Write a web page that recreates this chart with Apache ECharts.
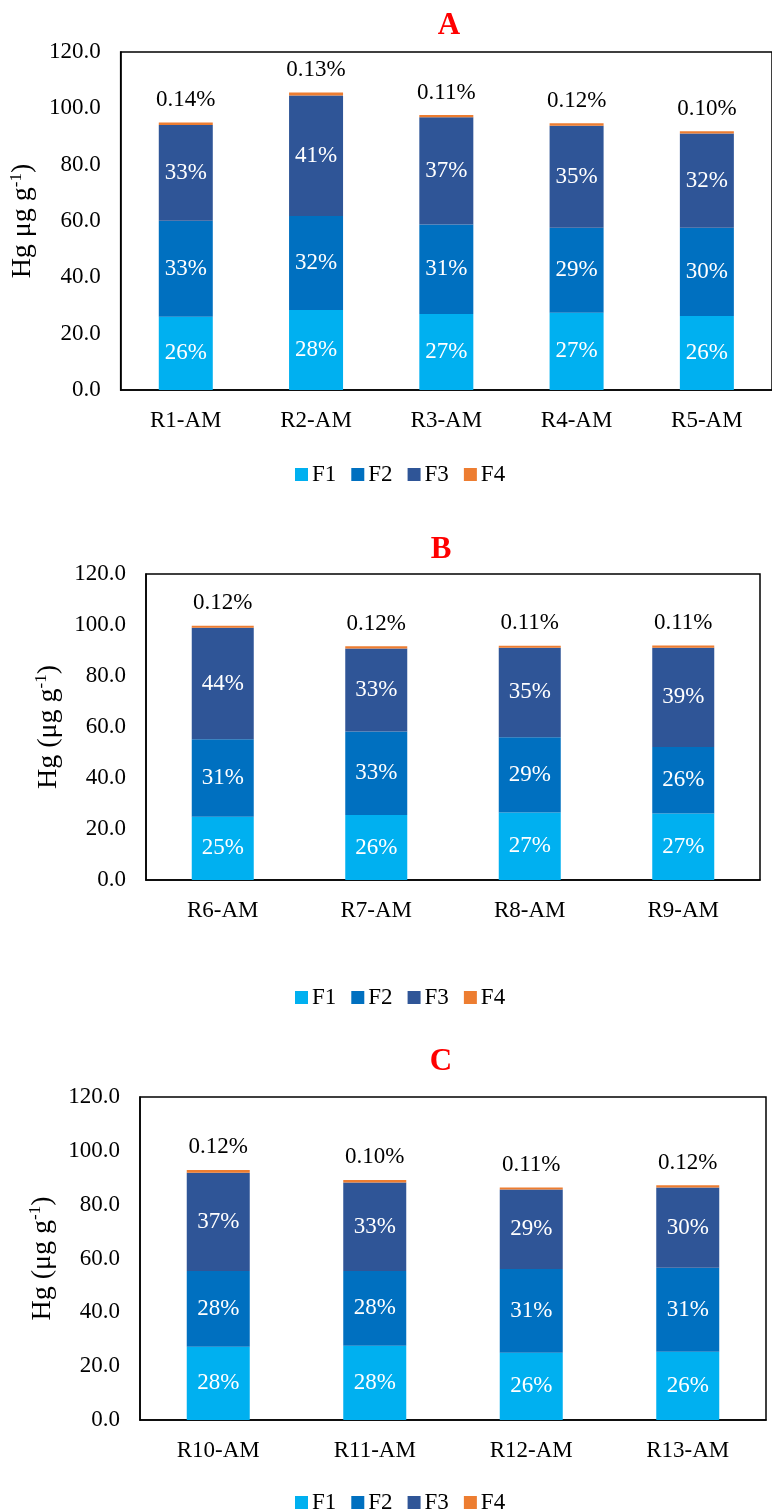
<!DOCTYPE html>
<html>
<head>
<meta charset="utf-8">
<script src="https://cdn.jsdelivr.net/npm/echarts@6/dist/echarts.min.js"></script>
<style>
html,body{margin:0;padding:0;background:#fff;}
#chart{width:772px;height:1510px;}
</style>
</head>
<body>
<div id="chart"></div>
<script>
// ---------- data ----------
const seriesNames = ['F1', 'F2', 'F3', 'F4'];
const yTicks = [0, 20, 40, 60, 80, 100, 120];

// Panel A
const catsA = ['R1-AM', 'R2-AM', 'R3-AM', 'R4-AM', 'R5-AM'];
const f1A = [26.0, 28.4, 27.0, 27.4, 26.3];
const f2A = [34.1, 33.4, 31.8, 30.2, 31.3];
const f3A = [34.0, 42.8, 38.0, 36.2, 33.5];
const f4A = [0.9, 1.0, 0.8, 0.9, 0.8];
const p1A = ['26%', '28%', '27%', '27%', '26%'];
const p2A = ['33%', '32%', '31%', '29%', '30%'];
const p3A = ['33%', '41%', '37%', '35%', '32%'];
const p4A = ['0.14%', '0.13%', '0.11%', '0.12%', '0.10%'];

// Panel B
const catsB = ['R6-AM', 'R7-AM', 'R8-AM', 'R9-AM'];
const f1B = [24.8, 25.5, 26.5, 26.1];
const f2B = [30.4, 32.7, 29.5, 26.1];
const f3B = [43.7, 32.6, 35.1, 38.9];
const f4B = [0.8, 0.9, 0.8, 0.9];
const p1B = ['25%', '26%', '27%', '27%'];
const p2B = ['31%', '33%', '29%', '26%'];
const p3B = ['44%', '33%', '35%', '39%'];
const p4B = ['0.12%', '0.12%', '0.11%', '0.11%'];

// Panel C
const catsC = ['R10-AM', 'R11-AM', 'R12-AM', 'R13-AM'];
const f1C = [27.2, 27.6, 25.0, 25.4];
const f2C = [28.2, 27.8, 31.1, 31.2];
const f3C = [36.5, 32.8, 29.5, 29.8];
const f4C = [1.0, 1.0, 0.8, 0.8];
const p1C = ['28%', '28%', '26%', '26%'];
const p2C = ['28%', '28%', '31%', '31%'];
const p3C = ['37%', '33%', '29%', '30%'];
const p4C = ['0.12%', '0.10%', '0.11%', '0.12%'];

const titles = ['A', 'B', 'C'];
const yNames = ['{n|Hg μg g}{sup|-1}{n|)}', '{n|Hg (μg g}{sup|-1}{n|)}', '{n|Hg (μg g}{sup|-1}{n|)}'];

// ---------- style ----------
const colors = ['#00B0F0', '#0070C0', '#2F5597', '#ED7D31'];
const FONT = '"Liberation Serif", "Times New Roman", serif';
const FS = 23;
const NAME_FS = 28;

const panels = [
  {cats: catsA, vals: [f1A, f2A, f3A, f4A], pcts: [p1A, p2A, p3A, p4A],
   grid: {left: 120, top: 52, width: 664, height: 338}, barWidth: 54, nameGap: 77,
   title: {x: 444, y: 5}, legendTop: 458},
  {cats: catsB, vals: [f1B, f2B, f3B, f4B], pcts: [p1B, p2B, p3B, p4B],
   grid: {left: 146, top: 574, width: 614, height: 306}, barWidth: 62, nameGap: 78,
   title: {x: 436, y: 529}, legendTop: 981},
  {cats: catsC, vals: [f1C, f2C, f3C, f4C], pcts: [p1C, p2C, p3C, p4C],
   grid: {left: 140, top: 1097, width: 626, height: 323}, barWidth: 63, nameGap: 75,
   title: {x: 436, y: 1041}, legendTop: 1486}
];

const option = {
  animation: false,
  backgroundColor: '#fff',
  color: colors,
  title: [], legend: [], grid: [], xAxis: [], yAxis: [], series: []
};

panels.forEach((p, gi) => {
  option.title.push({
    text: titles[gi], left: p.title.x, top: p.title.y, textAlign: 'center',
    textStyle: {color: '#FF0000', fontFamily: FONT, fontSize: 31, fontWeight: 'bold'}
  });
  option.legend.push({
    data: seriesNames, left: 290, top: p.legendTop, icon: 'rect',
    itemWidth: 13, itemHeight: 13, itemGap: 15, selectedMode: false,
    textStyle: {fontFamily: FONT, fontSize: FS, color: '#000', padding: [0, 0, 0, -1]}
  });
  option.grid.push(Object.assign({show: true, borderColor: '#000', borderWidth: 1.5,
    backgroundColor: 'transparent'}, p.grid));
  option.xAxis.push({
    type: 'category', gridIndex: gi, data: p.cats,
    axisLine: {show: true, lineStyle: {color: '#000', width: 1.5}},
    axisTick: {show: false},
    axisLabel: {color: '#000', fontFamily: FONT, fontSize: FS, margin: 19}
  });
  option.yAxis.push({
    type: 'value', gridIndex: gi, min: yTicks[0], max: yTicks[yTicks.length - 1],
    interval: yTicks[1] - yTicks[0],
    axisLine: {show: true, lineStyle: {color: '#000', width: 1.5}},
    axisTick: {show: false},
    splitLine: {show: false},
    axisLabel: {color: '#000', fontFamily: FONT, fontSize: FS, margin: 20,
      formatter: v => v.toFixed(1)},
    name: yNames[gi], nameLocation: 'middle', nameRotate: 90, nameGap: p.nameGap,
    nameTextStyle: {color: '#000', fontFamily: FONT, fontSize: NAME_FS, lineHeight: 30,
      rich: {
        n: {fontFamily: FONT, fontSize: NAME_FS, lineHeight: 30, color: '#000'},
        sup: {fontFamily: FONT, fontSize: 17, lineHeight: 17, verticalAlign: 'top', color: '#000'}
      }}
  });
  seriesNames.forEach((nm, si) => {
    const isTop = si === 3;
    option.series.push({
      name: nm, type: 'bar', stack: 'stack' + gi,
      xAxisIndex: gi, yAxisIndex: gi,
      barWidth: p.barWidth,
      data: p.vals[si],
      itemStyle: {color: colors[si]},
      label: {
        show: true,
        position: isTop ? 'top' : 'inside',
        distance: 11,
        color: isTop ? '#000' : '#fff',
        fontFamily: FONT, fontSize: FS,
        formatter: params => p.pcts[si][params.dataIndex]
      }
    });
  });
});

const chart = echarts.init(document.getElementById('chart'), null, {renderer: 'canvas'});
chart.setOption(option);
</script>
</body>
</html>
